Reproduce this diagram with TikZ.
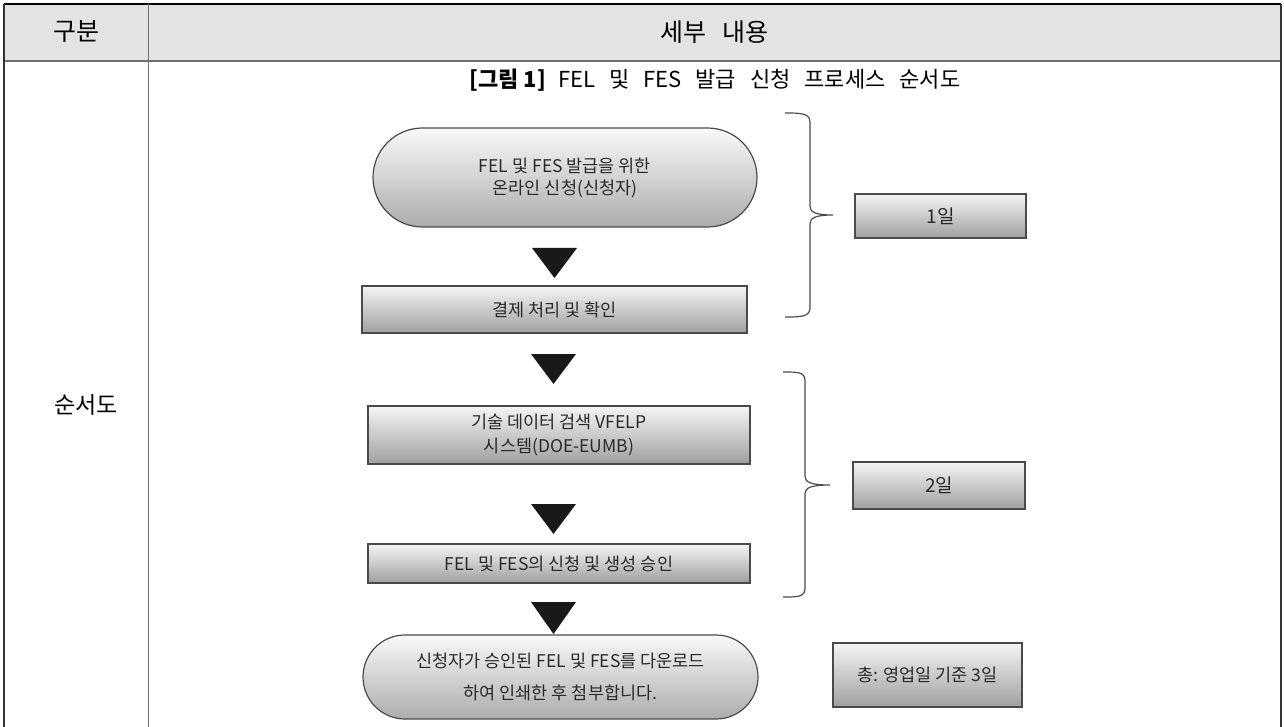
\documentclass[tikz,border=0pt]{standalone}
\usepackage{fontspec}
\setmainfont{Noto Sans CJK KR}
\usetikzlibrary{shapes.misc}
\definecolor{hdr}{HTML}{E3E3E3}
\definecolor{rule}{HTML}{707070}
\definecolor{ink}{HTML}{2A2A2A}
\definecolor{edge}{HTML}{4A4A4A}
\tikzset{
  procbox/.style={draw=edge, line width=1.2pt, top color=white!92!gray, bottom color=gray!75, text=ink, align=center, inner sep=0pt, font=\fontsize{17.5}{23}\selectfont},
  termbox/.style={procbox, rounded rectangle, top color=white!95!gray, bottom color=gray!65},
  daybox/.style={procbox, font=\fontsize{19}{22}\selectfont},
  brace/.style={draw=edge, line width=1.2pt},
  tri/.style={fill=black!90},
  hdrtext/.style={font=\fontsize{25}{28}\selectfont, text=black}
}
\begin{document}
\begin{tikzpicture}[x=1pt,y=-1pt]
\useasboundingbox (0,0) rectangle (1284,727);
\fill[white] (0,0) rectangle (1284,727);
% table
\fill[hdr] (4,4) rectangle (1281,61);
\draw[black, line width=1.3pt] (4,4) -- (1281,4);
\draw[rule, line width=2pt] (4,61) -- (1281,61);
\draw[black!80, line width=1.5pt] (4,4) -- (4,727);
\draw[black!80, line width=1.5pt] (1281,4) -- (1281,727);
\draw[rule, line width=1.2pt] (148.5,4) -- (148.5,727);
\node[hdrtext] (h1) at (76,32) {구분};
\node[hdrtext] (h2) at (714,32) {세부\hspace{16pt}내용};
\node[font=\fontsize{23}{26}\selectfont] (c1) at (86,405) {순서도};
\node[font=\fontsize{22}{24}\selectfont] (title) at (715,80) {\textbf{[그림 1]}\hspace{12pt}FEL\hspace{14pt}및\hspace{14pt}FES\hspace{14pt}발급\hspace{14pt}신청\hspace{14pt}프로세스\hspace{14pt}순서도};
% flowchart
\node[termbox, minimum width=384pt, minimum height=99pt, font=\fontsize{17.5}{22}\selectfont] (t1) at (565,177.5) {FEL 및 FES 발급을 위한\\온라인 신청(신청자)};
\fill[tri] (532,248) -- (577,248) -- (554.5,278) -- cycle;
\node[procbox, minimum width=385pt, minimum height=47pt] (p1) at (554.5,309.5) {결제 처리 및 확인};
\fill[tri] (531,354) -- (576,354) -- (553.5,384) -- cycle;
\node[procbox, minimum width=382pt, minimum height=58pt, font=\fontsize{17.5}{24}\selectfont] (p2) at (559,435) {기술 데이터 검색 VFELP\\시스템(DOE-EUMB)};
\fill[tri] (531,504) -- (576,504) -- (553.5,534) -- cycle;
\node[procbox, minimum width=382pt, minimum height=39pt] (p3) at (559,563.5) {FEL 및 FES의 신청 및 생성 승인};
\fill[tri] (531,602) -- (576,602) -- (553.5,634) -- cycle;
\node[termbox, minimum width=395pt, minimum height=84pt, font=\fontsize{17.5}{32}\selectfont] (t2) at (560.5,677) {신청자가 승인된 FEL 및 FES를 다운로드\\하여 인쇄한 후 첨부합니다.};
% day boxes
\node[daybox, minimum width=171pt, minimum height=44pt] (d1) at (940.5,216) {1일};
\node[daybox, minimum width=172pt, minimum height=47pt] (d2) at (939,485.5) {2일};
\node[daybox, minimum width=189pt, minimum height=64pt, font=\fontsize{17.5}{20}\selectfont] (d3) at (927.5,675) {총: 영업일 기준 3일};
% braces
\draw[brace] (785,113) .. controls (800,113) and (810,113) .. (810,122) -- (810,206) .. controls (810,212) and (815,215) .. (833,215) .. controls (815,215) and (810,218) .. (810,224) -- (810,308) .. controls (810,317) and (800,317) .. (785,317);
\draw[brace] (783,372) .. controls (798,372) and (805,372) .. (805,381) -- (805,476) .. controls (805,482) and (810,485) .. (830,485) .. controls (810,485) and (805,488) .. (805,494) -- (805,588) .. controls (805,597) and (798,597) .. (783,597);
\end{tikzpicture}
\end{document}
